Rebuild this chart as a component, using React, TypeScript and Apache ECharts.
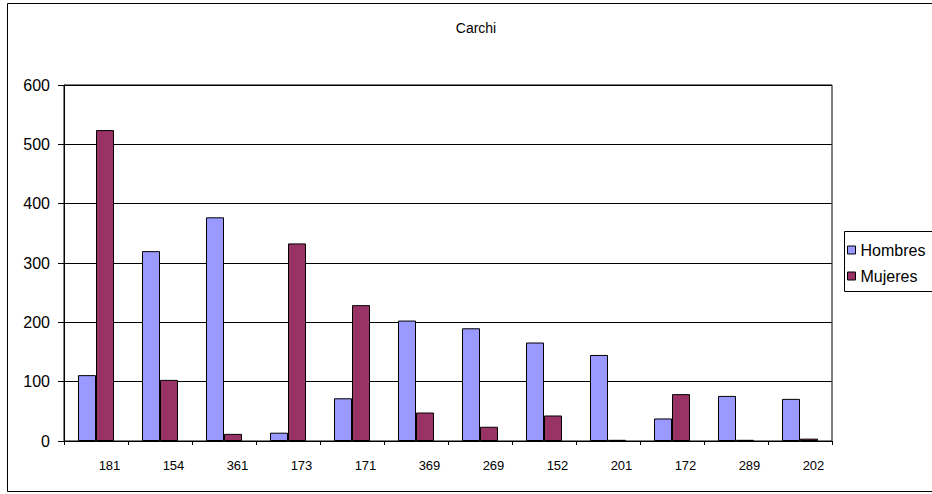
import React, { useEffect, useRef } from "react";
import * as echarts from "echarts";

const chartTitle = "Carchi";
const categories = ["181", "154", "361", "173", "171", "369", "269", "152", "201", "172", "289", "202"];
const seriesNames = ["Hombres", "Mujeres"];
const hombres = [111, 320, 377, 14, 72, 203, 190, 166, 145, 38, 76, 71];
const mujeres = [524, 103, 12, 333, 229, 48, 24, 43, 2, 79, 2, 4];
const yTicks = { min: 0, max: 600, interval: 100 };

const FONT = "'Liberation Sans', Arial, sans-serif";

export default function App() {
  const ref = useRef<HTMLDivElement>(null);
  useEffect(() => {
    if (!ref.current) return;
    const chart = echarts.init(ref.current, null, { renderer: "svg" });
    chart.setOption({
      animation: false,
      backgroundColor: "#ffffff",
      textStyle: { fontFamily: FONT, color: "#000" },
      graphic: [
        {
          type: "rect",
          shape: { x: 7.5, y: 3.5, width: 960, height: 488 },
          style: { fill: "none", stroke: "#000", lineWidth: 1 },
          silent: true,
        },
        {
          type: "rect",
          shape: { x: 844.5, y: 231.5, width: 120, height: 60 },
          style: { fill: "#fff", stroke: "#000", lineWidth: 1 },
          silent: true,
          z: -1,
        },
        {
          type: "text",
          x: 476,
          y: 28,
          style: {
            text: chartTitle,
            align: "center",
            verticalAlign: "middle",
            fontFamily: FONT,
            fontSize: 14,
            fill: "#000",
          },
        },
      ],
      legend: {
        orient: "vertical",
        left: 847,
        top: 242,
        padding: 0,
        itemWidth: 8,
        itemHeight: 8,
        itemGap: 10,
        itemTextGap: 1,
        icon: "rect",
        textStyle: { fontFamily: FONT, fontSize: 16, color: "#000" },
        itemStyle: { borderColor: "#000", borderWidth: 1 },
        data: seriesNames,
      },
      grid: {
        left: 64,
        right: 100,
        top: 85,
        bottom: 53,
        show: true,
        borderColor: "#000",
        borderWidth: 1,
        backgroundColor: "#fff",
      },
      xAxis: {
        type: "category",
        data: categories,
        axisLine: { lineStyle: { color: "#000", width: 1 } },
        axisTick: { show: true, length: 4, alignWithLabel: false, lineStyle: { color: "#000" } },
        axisLabel: {
          fontFamily: FONT,
          fontSize: 13,
          color: "#000",
          margin: 18,
          padding: [0, 0, 0, 27],
        },
      },
      yAxis: {
        type: "value",
        min: yTicks.min,
        max: yTicks.max,
        interval: yTicks.interval,
        axisLine: { show: true, lineStyle: { color: "#000", width: 1 } },
        axisTick: { show: true, length: 6, lineStyle: { color: "#000" } },
        axisLabel: { fontFamily: FONT, fontSize: 16, color: "#000", margin: 14 },
        splitLine: { show: true, lineStyle: { color: "#000", width: 1 } },
      },
      series: [
        {
          name: seriesNames[0],
          type: "bar",
          data: hombres,
          barWidth: 18,
          barGap: "0%",
          itemStyle: { color: "#9999FF", borderColor: "#000", borderWidth: 1 },
        },
        {
          name: seriesNames[1],
          type: "bar",
          data: mujeres,
          barWidth: 18,
          barGap: "0%",
          itemStyle: { color: "#993366", borderColor: "#000", borderWidth: 1 },
        },
      ],
    });
    return () => chart.dispose();
  }, []);
  return (
    <div
      ref={ref}
      style={{ position: "absolute", left: 0, top: 0, width: 932, height: 494 }}
    />
  );
}
